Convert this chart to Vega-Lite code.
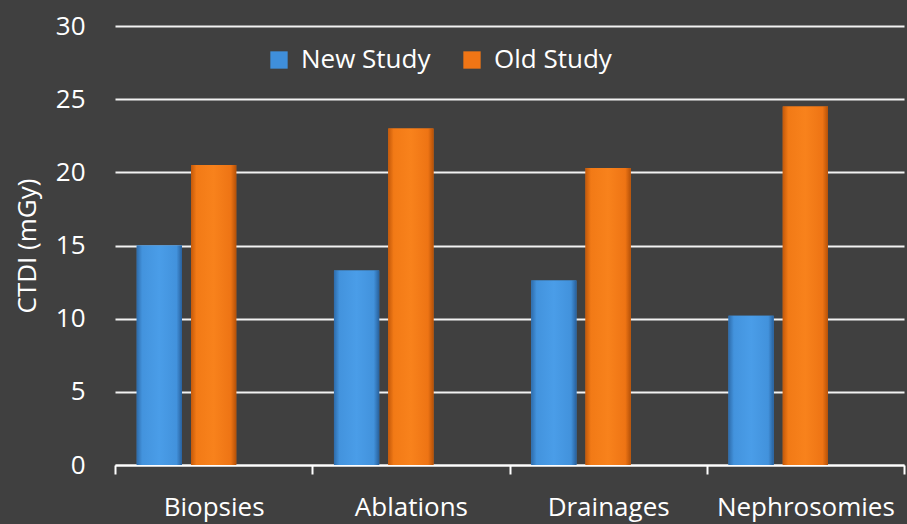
{
  "$schema": "https://vega.github.io/schema/vega-lite/v6.json",
  "width": 789,
  "height": 439,
  "autosize": {"type": "none"},
  "padding": {"left": 115, "top": 26, "right": 3, "bottom": 59},
  "background": "#404040",
  "config": {
    "view": {"stroke": null},
    "font": "Open Sans",
    "axis": {"labelColor": "#ffffff", "titleColor": "#ffffff", "labelFont": "Open Sans", "titleFont": "Open Sans", "labelFontWeight": "normal", "titleFontWeight": "normal"},
    "legend": {"labelColor": "#ffffff", "labelFont": "Open Sans"}
  },
  "data": {
    "values": [
      {"procedure": "Biopsies", "study": "New Study", "ctdi": 15.0},
      {"procedure": "Biopsies", "study": "Old Study", "ctdi": 20.5},
      {"procedure": "Ablations", "study": "New Study", "ctdi": 13.3},
      {"procedure": "Ablations", "study": "Old Study", "ctdi": 23.0},
      {"procedure": "Drainages", "study": "New Study", "ctdi": 12.6},
      {"procedure": "Drainages", "study": "Old Study", "ctdi": 20.3},
      {"procedure": "Nephrosomies", "study": "New Study", "ctdi": 10.2},
      {"procedure": "Nephrosomies", "study": "Old Study", "ctdi": 24.5}
    ]
  },
  "encoding": {
    "x": {
      "field": "procedure",
      "type": "nominal",
      "sort": ["Biopsies", "Ablations", "Drainages", "Nephrosomies"],
      "scale": {"paddingInner": 0, "paddingOuter": 0},
      "axis": {
        "title": null,
        "labelAngle": 0,
        "labelFontSize": 26,
        "labelPadding": 20,
        "domainColor": "#ffffff",
        "domainWidth": 2,
        "tickColor": "#ffffff",
        "tickWidth": 2,
        "tickSize": 9,
        "tickBand": "extent",
        "grid": false
      }
    },
    "xOffset": {
      "field": "study",
      "type": "nominal",
      "scale": {"domain": ["New Study", "Old Study", "Series 3"], "paddingInner": 0.1667, "paddingOuter": 0.4}
    },
    "y": {
      "field": "ctdi",
      "type": "quantitative",
      "scale": {"domain": [0, 30], "nice": false},
      "axis": {
        "title": "CTDI (mGy)",
        "titleFontSize": 26,
        "titleX": -88,
        "titleBaseline": "middle",
        "values": [0, 5, 10, 15, 20, 25, 30],
        "labelFontSize": 26,
        "labelPadding": 30,
        "ticks": false,
        "domain": false,
        "grid": true,
        "gridColor": "#f2f2f2",
        "gridWidth": 2,
        "gridOpacity": 1
      }
    }
  },
  "layer": [
    {
      "mark": {"type": "bar"},
      "encoding": {
        "color": {
          "field": "study",
          "type": "nominal",
          "scale": {"domain": ["New Study", "Old Study"], "range": ["#3f8fdb", "#f07515"]},
          "legend": {
            "title": null,
            "orient": "none",
            "direction": "horizontal",
            "legendX": 151,
            "legendY": 21,
            "padding": 0,
            "symbolType": "square",
            "symbolSize": 300,
            "symbolStrokeWidth": 0,
            "symbolOpacity": 1,
            "labelFontSize": 26,
            "labelOffset": 9,
            "columnPadding": 28
          }
        }
      }
    },
    {
      "transform": [{"filter": "datum.study === 'New Study'"}],
      "mark": {
        "type": "bar",
        "color": {"gradient": "linear", "x1": 0, "y1": 0, "x2": 1, "y2": 0, "stops": [
          {"offset": 0, "color": "#2e6cab"},
          {"offset": 0.12, "color": "#4393dd"},
          {"offset": 0.5, "color": "#4a9de8"},
          {"offset": 0.88, "color": "#4292dc"},
          {"offset": 1, "color": "#28609c"}
        ]}
      }
    },
    {
      "transform": [{"filter": "datum.study === 'Old Study'"}],
      "mark": {
        "type": "bar",
        "color": {"gradient": "linear", "x1": 0, "y1": 0, "x2": 1, "y2": 0, "stops": [
          {"offset": 0, "color": "#c4590a"},
          {"offset": 0.12, "color": "#f27a16"},
          {"offset": 0.5, "color": "#f8821c"},
          {"offset": 0.88, "color": "#ee7414"},
          {"offset": 1, "color": "#b55108"}
        ]}
      }
    }
  ]
}
